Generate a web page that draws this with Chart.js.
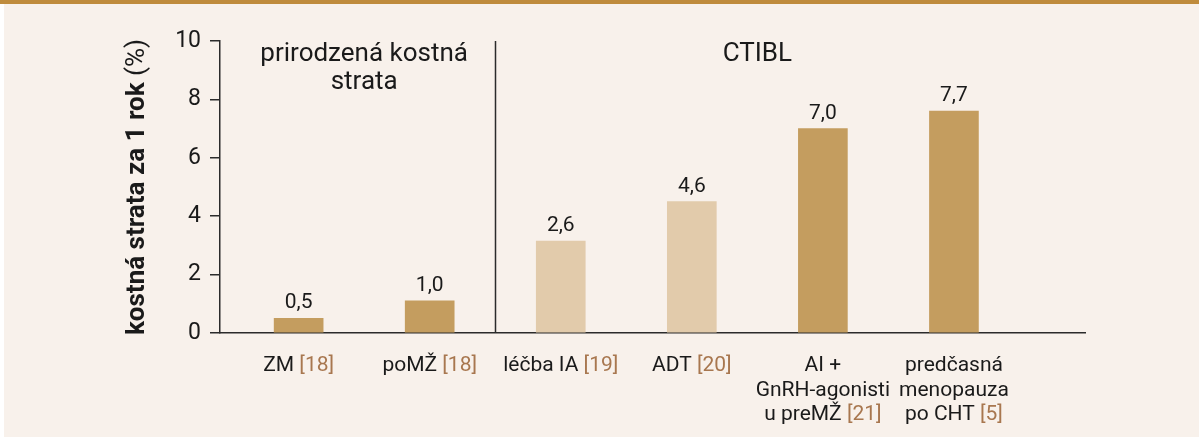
<!DOCTYPE html>
<html>
<head>
<meta charset="utf-8">
<script src="https://cdn.jsdelivr.net/npm/chart.js@4"></script>
<style>
  html, body { margin: 0; padding: 0; background: #fff; }
  .wrap { position: relative; width: 1199px; height: 438px; overflow: hidden; }
  .bg { position: absolute; left: 4px; top: 0; width: 1195px; height: 437px; background: #f8f1eb; }
  .topbar { position: absolute; left: 0; top: 0; width: 1199px; height: 4px; background: #bf8b3c; }
  canvas { position: absolute; left: 0; top: 0; }
</style>
</head>
<body>
<div class="wrap">
  <div class="bg"></div>
  <div class="topbar"></div>
  <canvas id="ch" width="1199" height="438"></canvas>
</div>
<script>
// data
const categories = [
  ['ZM'],
  ['poMŽ'],
  ['léčba IA'],
  ['ADT'],
  ['AI +', 'GnRH-agonisti', 'u preMŽ'],
  ['predčasná', 'menopauza', 'po CHT'],
];
const refs = ['[18]', '[18]', '[19]', '[20]', '[21]', '[5]'];
const values = [0.5, 1.1, 3.15, 4.5, 7.0, 7.6];
const valueLabels = ['0,5', '1,0', '2,6', '4,6', '7,0', '7,7'];
const groups = [
  { lines: ['prirodzená kostná', 'strata'], from: 0, to: 1 },
  { lines: ['CTIBL'], from: 2, to: 5 },
];
const yTicks = [0, 2, 4, 6, 8, 10];

const DARK = '#c49d5f';
const LIGHT = '#e2cbab';
const barColors = [DARK, DARK, LIGHT, LIGHT, DARK, DARK];
const TEXT = '#1a1a1a';
const REF = '#a8774f';
const AXIS = '#2b2b2b';
const FONT = 'Roboto, sans-serif';

const overlay = {
  id: 'overlay',
  afterDatasetsDraw(chart) {
    const { ctx, chartArea, scales: { x, y } } = chart;
    ctx.save();

    // separator between groups
    const sx = Math.round(x.getPixelForValue(1.5)) + 0.5;
    ctx.strokeStyle = AXIS;
    ctx.lineWidth = 1.5;
    ctx.beginPath();
    ctx.moveTo(sx, chartArea.top);
    ctx.lineTo(sx, chartArea.bottom);
    ctx.stroke();

    // value labels
    ctx.fillStyle = TEXT;
    ctx.font = `21px ${FONT}`;
    ctx.textAlign = 'center';
    ctx.textBaseline = 'alphabetic';
    values.forEach((v, i) => {
      ctx.fillText(valueLabels[i], x.getPixelForValue(i), y.getPixelForValue(v) - 10);
    });

    // group labels
    ctx.font = `26px ${FONT}`;
    groups.forEach(g => {
      const cx = (x.getPixelForValue(g.from) + x.getPixelForValue(g.to)) / 2;
      g.lines.forEach((l, k) => ctx.fillText(l, cx, 61 + k * 28));
    });

    // x labels with coloured references
    ctx.font = `21px ${FONT}`;
    ctx.textAlign = 'left';
    categories.forEach((lines, i) => {
      const cx = x.getPixelForValue(i);
      lines.forEach((l, k) => {
        const last = k === lines.length - 1;
        const main = last ? l + ' ' : l;
        const w1 = ctx.measureText(main).width;
        const w2 = last ? ctx.measureText(refs[i]).width : 0;
        const x0 = cx - (w1 + w2) / 2;
        const yy = 371 + k * 24.5;
        ctx.fillStyle = TEXT;
        ctx.fillText(main, x0, yy);
        if (last) {
          ctx.fillStyle = REF;
          ctx.fillText(refs[i], x0 + w1, yy);
        }
      });
    });

    // y title: bold part + normal (%)
    const t1 = 'kostná strata za 1 rok ';
    const t2 = '(%)';
    ctx.translate(144, (chartArea.top + chartArea.bottom) / 2);
    ctx.rotate(-Math.PI / 2);
    ctx.textBaseline = 'alphabetic';
    ctx.font = `bold 26px ${FONT}`;
    const a = ctx.measureText(t1).width;
    ctx.font = `26px ${FONT}`;
    const b = ctx.measureText(t2).width;
    const start = -(a + b) / 2;
    ctx.fillStyle = TEXT;
    ctx.font = `bold 26px ${FONT}`;
    ctx.fillText(t1, start, 0);
    ctx.font = `26px ${FONT}`;
    ctx.fillText(t2, start + a, 0);

    ctx.restore();
  },
};

new Chart(document.getElementById('ch'), {
  type: 'bar',
  data: {
    datasets: [{
      data: values.map((v, i) => ({ x: i, y: v })),
      backgroundColor: barColors,
      barThickness: 49,
      borderWidth: 0,
    }],
  },
  options: {
    responsive: false,
    animation: false,
    layout: { padding: { top: 41, right: 114, left: 0, bottom: 0 } },
    plugins: { legend: { display: false }, tooltip: { enabled: false } },
    scales: {
      x: {
        type: 'linear',
        min: -0.6,
        max: 6.0,
        offset: false,
        ticks: { display: false },
        grid: { drawOnChartArea: false, drawTicks: false },
        border: { display: true, color: AXIS, width: 1.5 },
        afterFit: s => { s.height = 105; },
      },
      y: {
        min: 0,
        max: 10,
        afterBuildTicks: s => { s.ticks = yTicks.map(v => ({ value: v })); },
        ticks: { color: TEXT, font: { family: FONT, size: 23 }, padding: 9 },
        grid: { drawOnChartArea: false, drawTicks: true, tickLength: 10, color: AXIS, lineWidth: 1.5 },
        border: { display: true, color: AXIS, width: 1.5 },
        afterFit: s => { s.width = 220; },
      },
    },
  },
  plugins: [overlay],
});
</script>
</body>
</html>
